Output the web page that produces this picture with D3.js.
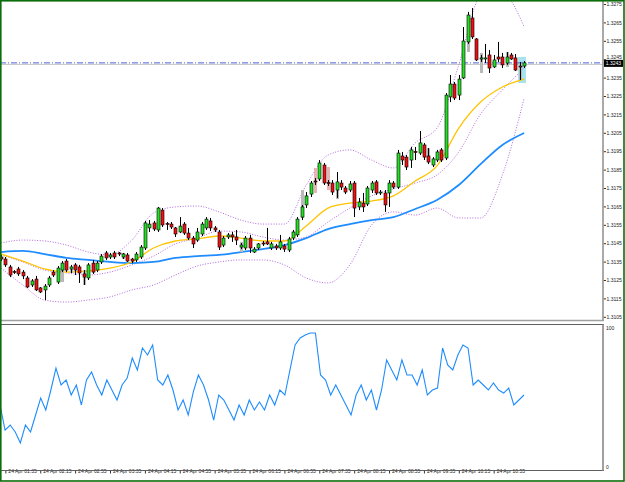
<!DOCTYPE html>
<html>
<head>
<meta charset="utf-8">
<title>EURUSD M5</title>
<script src="https://cdn.jsdelivr.net/npm/d3@7"></script>
<style>
  body { margin: 0; background: #fff; }
  text { font-family: "Liberation Sans", Arial, sans-serif; }
</style>
</head>
<body>
<div id="chart"></div>
<script>
// time labels, one every 8 bars (40 min), starting at bar 1
var timeLabels = ["24 Apr 01:35", "24 Apr 02:15", "24 Apr 02:55", "24 Apr 03:35", "24 Apr 04:15",
  "24 Apr 04:55", "24 Apr 05:35", "24 Apr 06:15", "24 Apr 06:55", "24 Apr 07:35",
  "24 Apr 08:15", "24 Apr 08:55", "24 Apr 09:35", "24 Apr 10:15", "24 Apr 10:55"];
var priceTicks = [1.3275, 1.3265, 1.3255, 1.3245, 1.3235, 1.3225, 1.3215, 1.3205, 1.3195,
  1.3185, 1.3175, 1.3165, 1.3155, 1.3145, 1.3135, 1.3125, 1.3115, 1.3105];
var lastPrice = 1.3243;

var open = [1.31375, 1.31364, 1.31321, 1.31296, 1.31310, 1.31293, 1.31261, 1.31223, 1.31255, 1.31207,
  1.31196, 1.31223, 1.31293, 1.31239, 1.31304, 1.31353, 1.31310, 1.31332, 1.31321, 1.31283,
  1.31261, 1.31342, 1.31304, 1.31348, 1.31397, 1.31375, 1.31397, 1.31397, 1.31375, 1.31386,
  1.31364, 1.31359, 1.31375, 1.31424, 1.31533, 1.31560, 1.31522, 1.31630, 1.31557, 1.31554,
  1.31533, 1.31511, 1.31554, 1.31505, 1.31478, 1.31467, 1.31500, 1.31533, 1.31571, 1.31533,
  1.31511, 1.31440, 1.31484, 1.31495, 1.31484, 1.31429, 1.31424, 1.31478, 1.31402, 1.31424,
  1.31451, 1.31457, 1.31424, 1.31435, 1.31424, 1.31435, 1.31413, 1.31478, 1.31495, 1.31592,
  1.31658, 1.31717, 1.31788, 1.31799, 1.31875, 1.31780, 1.31777, 1.31739, 1.31777, 1.31750,
  1.31739, 1.31777, 1.31647, 1.31668, 1.31663, 1.31739, 1.31783, 1.31723, 1.31723, 1.31723,
  1.31777, 1.31755, 1.31924, 1.31918, 1.31902, 1.31948, 1.31940, 1.31984, 1.31924, 1.31875,
  1.31902, 1.31957, 1.31913, 1.32245, 1.32315, 1.32255, 1.32348, 1.32544, 1.32674, 1.32560,
  1.32451, 1.32451, 1.32473, 1.32408, 1.32462, 1.32462, 1.32429, 1.32473, 1.32457, 1.32413,
  1.32413];
var high = [1.31386, 1.31375, 1.31332, 1.31304, 1.31321, 1.31304, 1.31272, 1.31255, 1.31272, 1.31212,
  1.31228, 1.31272, 1.31304, 1.31326, 1.31353, 1.31364, 1.31332, 1.31342, 1.31332, 1.31304,
  1.31342, 1.31359, 1.31353, 1.31391, 1.31408, 1.31397, 1.31408, 1.31402, 1.31397, 1.31397,
  1.31370, 1.31402, 1.31440, 1.31571, 1.31576, 1.31571, 1.31647, 1.31641, 1.31565, 1.31565,
  1.31538, 1.31592, 1.31565, 1.31533, 1.31489, 1.31533, 1.31565, 1.31592, 1.31587, 1.31543,
  1.31522, 1.31489, 1.31505, 1.31511, 1.31522, 1.31451, 1.31489, 1.31495, 1.31429, 1.31451,
  1.31462, 1.31533, 1.31457, 1.31446, 1.31495, 1.31446, 1.31484, 1.31522, 1.31592, 1.31658,
  1.31728, 1.31788, 1.31804, 1.31902, 1.31886, 1.31793, 1.31793, 1.31837, 1.31793, 1.31761,
  1.31788, 1.31788, 1.31696, 1.31723, 1.31761, 1.31788, 1.31793, 1.31739, 1.31739, 1.31793,
  1.31788, 1.31957, 1.31946, 1.31929, 1.31973, 1.31973, 1.32060, 1.31995, 1.31967, 1.31918,
  1.31957, 1.31967, 1.32266, 1.32364, 1.32326, 1.32364, 1.32625, 1.32707, 1.32728, 1.32565,
  1.32473, 1.32533, 1.32500, 1.32473, 1.32544, 1.32484, 1.32489, 1.32484, 1.32478, 1.32435,
  1.32440];
var low = [1.31353, 1.31321, 1.31266, 1.31283, 1.31272, 1.31255, 1.31207, 1.31212, 1.31190, 1.31179,
  1.31141, 1.31212, 1.31266, 1.31228, 1.31293, 1.31293, 1.31288, 1.31277, 1.31234, 1.31223,
  1.31250, 1.31283, 1.31293, 1.31337, 1.31359, 1.31364, 1.31364, 1.31380, 1.31364, 1.31348,
  1.31342, 1.31348, 1.31364, 1.31413, 1.31511, 1.31516, 1.31511, 1.31538, 1.31522, 1.31527,
  1.31484, 1.31505, 1.31495, 1.31467, 1.31424, 1.31457, 1.31489, 1.31522, 1.31516, 1.31511,
  1.31413, 1.31429, 1.31473, 1.31457, 1.31440, 1.31418, 1.31413, 1.31397, 1.31397, 1.31413,
  1.31435, 1.31440, 1.31413, 1.31413, 1.31413, 1.31402, 1.31402, 1.31467, 1.31484, 1.31576,
  1.31641, 1.31701, 1.31766, 1.31788, 1.31766, 1.31761, 1.31712, 1.31696, 1.31739, 1.31717,
  1.31728, 1.31592, 1.31630, 1.31620, 1.31652, 1.31723, 1.31712, 1.31712, 1.31620, 1.31647,
  1.31745, 1.31745, 1.31875, 1.31848, 1.31859, 1.31902, 1.31929, 1.31902, 1.31880, 1.31864,
  1.31891, 1.31891, 1.31902, 1.32217, 1.32228, 1.32228, 1.32342, 1.32533, 1.32560, 1.32440,
  1.32435, 1.32429, 1.32375, 1.32402, 1.32435, 1.32402, 1.32419, 1.32446, 1.32386, 1.32337,
  1.32402];
var close = [1.31364, 1.31332, 1.31277, 1.31291, 1.31283, 1.31272, 1.31212, 1.31245, 1.31196, 1.31185,
  1.31217, 1.31261, 1.31277, 1.31315, 1.31342, 1.31304, 1.31321, 1.31304, 1.31288, 1.31266,
  1.31332, 1.31293, 1.31342, 1.31380, 1.31370, 1.31386, 1.31375, 1.31391, 1.31391, 1.31353,
  1.31353, 1.31391, 1.31429, 1.31560, 1.31554, 1.31527, 1.31641, 1.31549, 1.31552, 1.31538,
  1.31500, 1.31543, 1.31505, 1.31478, 1.31446, 1.31511, 1.31554, 1.31581, 1.31533, 1.31522,
  1.31429, 1.31478, 1.31495, 1.31484, 1.31467, 1.31440, 1.31478, 1.31424, 1.31418, 1.31446,
  1.31446, 1.31446, 1.31446, 1.31424, 1.31457, 1.31418, 1.31473, 1.31511, 1.31581, 1.31647,
  1.31707, 1.31777, 1.31783, 1.31886, 1.31777, 1.31774, 1.31728, 1.31783, 1.31755, 1.31728,
  1.31772, 1.31641, 1.31674, 1.31647, 1.31750, 1.31777, 1.31723, 1.31728, 1.31658, 1.31777,
  1.31755, 1.31940, 1.31902, 1.31864, 1.31957, 1.31943, 1.31995, 1.31918, 1.31891, 1.31908,
  1.31946, 1.31902, 1.32255, 1.32315, 1.32239, 1.32342, 1.32549, 1.32690, 1.32571, 1.32446,
  1.32457, 1.32457, 1.32402, 1.32446, 1.32451, 1.32419, 1.32462, 1.32451, 1.32391, 1.32408,
  1.32430];

// faded "shadow" bars drawn behind some candles
var ghostIdx = [14, 16, 19, 28, 55, 69, 72, 75, 77, 98, 107, 110, 116, 119];
var ghostTop = [1.31304, 1.31321, 1.31304, 1.31397, 1.31457, 1.31739, 1.31859, 1.31864, 1.31739, 1.31967,
  1.32690, 1.32484, 1.32489, 1.32408];
var ghostBottom = [1.31239, 1.31288, 1.31223, 1.31364, 1.31402, 1.31587, 1.31723, 1.31739, 1.31690, 1.31891,
  1.32489, 1.32375, 1.32408, 1.32337];
var ghostPink = [72, 75];

// indicator lines, read every 5 bars
var lineIdx = [0, 5, 10, 15, 20, 25, 30, 35, 40, 45, 50, 55, 60, 65, 70, 75, 80, 85, 90, 95, 100, 105, 110, 115, 120];
var maFast = [1.31391, 1.31353, 1.31310, 1.31293, 1.31299, 1.31315, 1.31348, 1.31424, 1.31462, 1.31473,
  1.31489, 1.31478, 1.31462, 1.31462, 1.31543, 1.31641, 1.31668, 1.31679, 1.31707, 1.31788,
  1.31870, 1.32076, 1.32217, 1.32299, 1.32342];
var maSlow = [1.31402, 1.31408, 1.31391, 1.31370, 1.31359, 1.31348, 1.31342, 1.31348, 1.31370, 1.31380,
  1.31386, 1.31402, 1.31418, 1.31440, 1.31478, 1.31527, 1.31554, 1.31576, 1.31592, 1.31636,
  1.31685, 1.31766, 1.31880, 1.31984, 1.32049];
var bbUpper = [1.31451, 1.31467, 1.31462, 1.31440, 1.31402, 1.31386, 1.31467, 1.31614, 1.31647, 1.31652,
  1.31620, 1.31576, 1.31554, 1.31554, 1.31766, 1.31929, 1.31957, 1.31902, 1.31859, 1.31995,
  1.32076, 1.32419, 1.32788, 1.32804, 1.32625];
var bbMiddle = [1.31386, 1.31348, 1.31304, 1.31288, 1.31277, 1.31293, 1.31332, 1.31380, 1.31446, 1.31478,
  1.31516, 1.31511, 1.31484, 1.31467, 1.31484, 1.31565, 1.31641, 1.31707, 1.31745, 1.31777,
  1.31821, 1.31946, 1.32152, 1.32283, 1.32402];
var bbLower = [1.31315, 1.31223, 1.31141, 1.31130, 1.31141, 1.31158, 1.31196, 1.31223, 1.31277, 1.31326,
  1.31348, 1.31359, 1.31359, 1.31332, 1.31261, 1.31234, 1.31332, 1.31549, 1.31620, 1.31603,
  1.31641, 1.31587, 1.31587, 1.31821, 1.32239];

// oscillator (0..100), rough reading
var osc = [44.6, 26.6, 30.2, 25.2, 17.3, 30.2, 25.2, 37.4, 49.6, 41.0, 55.4, 71.2, 59.0, 62.6, 51.8,
  59.0, 44.6, 62.6, 68.3, 59.0, 51.8, 62.6, 55.4, 48.2, 59.0, 64.0, 78.4, 69.8, 85.6, 80.6,
  87.8, 62.6, 59.0, 66.2, 55.4, 41.0, 48.2, 37.4, 54.0, 66.2, 59.0, 48.2, 33.8, 51.8, 48.2,
  41.0, 33.8, 44.6, 37.4, 48.2, 41.0, 46.8, 41.0, 51.8, 44.6, 55.4, 51.8, 69.8, 87.8, 92.8,
  95.0, 96.4, 96.4, 66.2, 62.6, 51.8, 59.0, 51.8, 44.6, 37.4, 51.8, 59.0, 48.2, 55.4, 41.0,
  55.4, 77.0, 69.8, 62.6, 77.0, 66.2, 66.2, 59.0, 69.8, 51.8, 55.4, 56.8, 85.6, 73.4, 69.8,
  80.6, 87.8, 85.6, 59.0, 62.6, 59.0, 55.4, 60.4, 55.4, 53.2, 56.8, 44.6, 48.2, 51.8];

var W = 625, H = 482, plotRight = 603;

var svg = d3.select("#chart").append("svg")
  .attr("width", W)
  .attr("height", H);

var x = d3.scaleLinear().domain([0, 120]).range([1, 524.2]);
var y = d3.scaleLinear().domain([1.3105, 1.3275]).range([316.8, 4]);
var yo = d3.scaleLinear().domain([0, 100]).range([467, 328]);

svg.append("clipPath").attr("id", "mainClip")
  .append("rect").attr("x", 0).attr("y", 0).attr("width", plotRight).attr("height", 320);

var main = svg.append("g").attr("clip-path", "url(#mainClip)");

// highlight of the last bars
main.append("rect")
  .attr("x", x(118.6)).attr("y", y(1.32462))
  .attr("width", x(120.4) - x(118.6)).attr("height", y(1.32337) - y(1.32462) + 3)
  .style("fill", "#a6e3ec");

// bid / ask lines
main.append("line")
  .attr("x1", 0).attr("x2", plotRight)
  .attr("y1", y(lastPrice) + 1.5).attr("y2", y(lastPrice) + 1.5)
  .style("stroke", "#c4c4c4").style("stroke-width", 1);
main.append("line")
  .attr("x1", 0).attr("x2", plotRight)
  .attr("y1", y(lastPrice)).attr("y2", y(lastPrice))
  .style("stroke", "#4f62d8").style("stroke-width", 1)
  .style("stroke-dasharray", "6,2,1,2");

var priceLine = function(vals) {
  return d3.line()
    .x(function(d, k) { return x(lineIdx[k]); })
    .y(function(d) { return y(d); })
    .curve(d3.curveMonotoneX)(vals);
};

[bbUpper, bbMiddle, bbLower].forEach(function(band) {
  main.append("path").attr("d", priceLine(band))
    .style("fill", "none").style("stroke", "#b468e0").style("stroke-dasharray", "1,1.6");
});
main.append("path").attr("d", priceLine(maSlow))
  .style("fill", "none").style("stroke", "#1e8cff").style("stroke-width", 1.8);
main.append("path").attr("d", priceLine(maFast))
  .style("fill", "none").style("stroke", "#ffc400").style("stroke-width", 1.3);

// shadow bars
main.selectAll(".ghost")
  .data(ghostIdx)
  .enter().append("rect")
  .attr("class", "ghost")
  .attr("x", function(i) { return Math.round(x(i)) - 1; })
  .attr("width", 3)
  .attr("y", function(i, k) { return y(ghostTop[k]); })
  .attr("height", function(i, k) { return y(ghostBottom[k]) - y(ghostTop[k]); })
  .style("fill", function(i) { return ghostPink.indexOf(i) >= 0 ? "#e9b3b3" : "#b9b9b9"; });

// candles
var bars = main.selectAll(".bar")
  .data(d3.range(open.length))
  .enter().append("g")
  .attr("class", "bar");

bars.append("line")
  .attr("x1", function(i) { return Math.round(x(i)) + 0.5; })
  .attr("x2", function(i) { return Math.round(x(i)) + 0.5; })
  .attr("y1", function(i) { return y(high[i]); })
  .attr("y2", function(i) { return y(low[i]); })
  .style("stroke", "#000").style("stroke-width", 1);

bars.append("rect")
  .attr("x", function(i) { return Math.round(x(i)) - 1; })
  .attr("width", 3)
  .attr("y", function(i) { return y(Math.max(open[i], close[i])); })
  .attr("height", function(i) { return Math.max(1, Math.abs(y(open[i]) - y(close[i]))); })
  .style("fill", function(i) { return close[i] >= open[i] ? "#22e022" : "#f01010"; })
  .style("stroke", "#000").style("stroke-width", 0.6);

// price axis
var yAxis = svg.append("g")
  .attr("transform", "translate(" + plotRight + ",0)")
  .call(d3.axisRight(y).tickValues(priceTicks).tickSize(3).tickFormat(d3.format(".4f")));
yAxis.select(".domain").remove();
yAxis.selectAll("text").attr("x", 3.5).style("font-size", "5px").style("fill", "#222");
yAxis.selectAll("line").style("stroke", "#333");
// the tick just above the price box is nudged up a little
yAxis.selectAll(".tick")
  .filter(function(d) { return Math.abs(d - lastPrice) < 0.0005; })
  .select("text").attr("dy", "-0.1em");

// last price box
svg.append("rect")
  .attr("x", plotRight + 1).attr("y", y(lastPrice) - 3)
  .attr("width", 19).attr("height", 7)
  .style("fill", "#000");
svg.append("text")
  .attr("x", plotRight + 10.5).attr("y", y(lastPrice) + 2.3)
  .style("text-anchor", "middle").style("font-size", "5px").style("fill", "#fff")
  .text(d3.format(".4f")(lastPrice));

// oscillator
var xo = d3.scaleLinear().domain([0, osc.length - 1]).range([0, 524]);
svg.append("path")
  .attr("d", d3.line()
    .x(function(d, k) { return xo(k); })
    .y(function(d) { return yo(d); })(osc))
  .style("fill", "none").style("stroke", "#1e8cff").style("stroke-width", 1.1);

svg.append("text").attr("x", plotRight + 3).attr("y", yo(100) + 1.8)
  .style("font-size", "5px").style("fill", "#222").text("100");
svg.append("text").attr("x", plotRight + 3).attr("y", yo(0) + 1.8)
  .style("font-size", "5px").style("fill", "#222").text("0");

// time axis
var xAxis = svg.append("g")
  .attr("transform", "translate(0,470.5)")
  .call(d3.axisBottom(x)
    .tickValues(timeLabels.map(function(d, k) { return 1 + 8 * k; }))
    .tickSize(3)
    .tickFormat(function(d, k) { return timeLabels[k]; }));
xAxis.select(".domain").remove();
xAxis.selectAll("text")
  .attr("y", 1).attr("dy", "0.32em").attr("x", 2.5)
  .style("text-anchor", "start").style("font-size", "5px").style("fill", "#222");
xAxis.selectAll("line").style("stroke", "#333");

// panel borders
svg.append("line").attr("x1", 0).attr("x2", plotRight + 1).attr("y1", 320.5).attr("y2", 320.5)
  .style("stroke", "#a0a0a0").style("stroke-width", 1.5);
svg.append("line").attr("x1", 0).attr("x2", plotRight + 1).attr("y1", 324.5).attr("y2", 324.5)
  .style("stroke", "#606060").style("stroke-width", 1);
svg.append("line").attr("x1", 0).attr("x2", plotRight + 1).attr("y1", 470.5).attr("y2", 470.5)
  .style("stroke", "#606060").style("stroke-width", 1);
svg.append("line").attr("x1", plotRight).attr("x2", plotRight).attr("y1", 0).attr("y2", 321)
  .style("stroke", "#a0a0a0").style("stroke-width", 1.8);
svg.append("line").attr("x1", plotRight).attr("x2", plotRight).attr("y1", 324).attr("y2", 471)
  .style("stroke", "#808080").style("stroke-width", 1.5);

// outer frame
svg.append("rect").attr("x", 0.8).attr("y", 0.8).attr("width", 623.2).attr("height", 480.2)
  .style("fill", "none").style("stroke", "#0b6e0b").style("stroke-width", 1.6);
</script>
</body>
</html>
